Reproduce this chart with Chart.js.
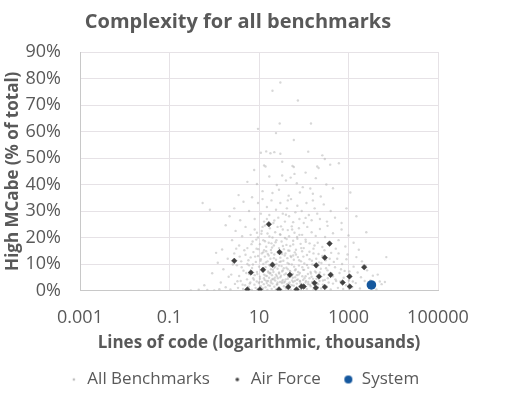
<!DOCTYPE html>
<html>
<head>
<meta charset="utf-8">
<script src="https://cdn.jsdelivr.net/npm/chart.js@4.4.1/dist/chart.umd.min.js"></script>
<style>
  body { margin: 0; background: #ffffff; }
  #wrap { width: 530px; height: 398px; }
</style>
</head>
<body>
<div id="wrap"><canvas id="complexity-chart" width="530" height="398"></canvas></div>
<script>
// x = lines of code (thousands), y = high McCabe (% of total)
const benchmarkPoints = [
  // 60-80%
  [30,78.5],[20,75.4],[74,71.7],[29,63],[145,63],[9.5,61],[24,59.4],
  // 45-60%
  [60,56.8],[126,52.4],[11,52],[14.5,52.5],[18,51.8],[22,52.2],[30,51.6],[260,51],[295,49.6],
  [7.8,45.5],[13,47.2],[14,46.8],[33,48.6],[56,47],[60,46.6],[200,46.8],[215,46.2],[390,47.5],[610,48],
  // 35-45%
  [17,43],[33,43.4],[51,42.6],[186,42.4],[5.5,41],[9,40.2],[25,39.8],[40,41.5],[70,40.5],[95,39],
  [140,38.5],[320,40],[12,37.5],[20,36.8],[28,38],[46,35.8],[82,37],[160,36.5],[240,35.5],[450,38.6],
  [3.5,36],[7,35.2],[62,44],[110,44.5],[1100,37],
  // 25-35%
  [0.55,33],[0.8,30.5],[2.2,28],[4.5,33.5],[6,30],[8,27],[9.5,33],[11,29],[13,26],[15,31.5],
  [17,28.5],[19,34],[21,25.5],[24,30.5],[27,27.5],[30,33],[34,29],[38,26],[42,31],[47,28],
  [52,34.5],[58,25.8],[65,29.5],[72,32],[80,27],[90,30],[100,25.5],[115,33],[130,28.5],[150,26.5],
  [175,31],[200,29],[230,27],[280,32.5],[330,26],[400,30],[500,27.5],[700,25.5],[900,31],[1500,28],
  [3.8,26.5],[2.8,31],[12,34.5],[44,34],[160,34],
  [9,21.8],[12,24],[15,27],[22,26.4],[31,24.2],[40,28.6],[55,23],[80,21],[110,27.4],
  // 15-25%
  [1.8,24.6],[1.5,15.5],[2.5,19],[3,22.5],[3.6,17],[4.2,20.5],[5,24],[5.5,16],[6.5,21],[7.2,18.5],
  [8,23],[8.8,15.8],[9.5,20],[10.5,17.5],[11.5,22.5],[12.5,19],[13.5,24.5],[14.5,16.5],[15.5,21.5],[16.5,18],
  [17.5,23.5],[18.5,15.3],[20,20],[21.5,17],[23,22],[24.5,19],[26,24],[28,16],[30,21],[32,18.5],
  [34,23],[36,15.6],[38,19.8],[41,17.2],[44,22.8],[47,20.5],[50,16.8],[54,24.2],[58,18.8],[62,21.8],
  [67,15.4],[72,19.5],[78,23.5],[85,17.6],[92,21],[100,16],[110,19.2],[120,24],[135,17.8],[150,22],
  [165,15.8],[185,20.6],[205,18],[230,23.2],[260,16.4],[300,20.2],[340,24.4],[390,17.4],[450,21.6],[520,15.8],
  [600,19],[700,23],[850,16.6],[1000,20.8],[1300,18],[1700,15.4],[2500,22],[13,15.2],[19,17.8],[45,15.1],
  [6.8,17.5],[8.7,19.2],[11.3,21.4],[13.6,18.6],[17.1,20.4],[19.6,16.2],[23.5,18.2],[29.6,21.2],[34.2,16.8],
  [41.5,19.4],[48,15],[58,17.4],[71,20.2],[88,16],[111,18.4],[174,17],[290,15.2],[3.1,15.8],[4.7,15.2],
  // 5-15%
  [1.6,8],[2,12],[2.4,6],[2.8,14],[3.2,9.5],[3.6,5.5],[4,11],[4.5,7.5],[5,13.5],[5.5,10],
  [6,6.2],[6.5,12.5],[7,8.5],[7.5,14.5],[8,5.8],[8.5,10.8],[9,7],[9.5,13],[10,9],[10.5,5.2],
  [11,11.8],[11.5,14],[12,7.8],[12.5,10],[13,6],[13.5,12.8],[14,8.8],[14.5,14.8],[15,5.5],[15.5,11],
  [16,7.2],[16.5,13.2],[17,9.6],[17.5,6.4],[18,12],[18.5,8],[19,14.2],[19.5,5.8],[20,10.4],[21,7],
  [22,13.6],[23,9],[24,11.6],[25,5.4],[26,8.2],[27,14.6],[28,6.8],[29,10.8],[30,12.4],[31,5.6],
  [32,9.2],[33,13.8],[34,7.6],[35,11.2],[37,6],[39,14],[41,8.6],[43,12.2],[45,5.2],[47,10],
  [49,7.4],[51,13],[54,9.8],[57,6.2],[60,11.6],[63,14.4],[66,8],[70,5.8],[74,12.6],[78,9.4],
  [82,6.6],[87,11],[92,14.8],[97,7.8],[103,10.2],[110,5.4],[118,13.4],[126,8.6],[135,11.8],[145,6.4],
  [155,9.8],[165,14],[178,7.2],[190,12],[205,5.6],[220,10.6],[240,8.2],[260,13],[285,6],[310,11.4],
  [340,7.6],[370,9.6],[410,14.2],[450,5.4],[500,8.8],[560,12],[630,6.6],[720,10],[820,7.4],[950,13.6],
  [1100,5.8],[1300,9],[1600,6.8],[2000,11],[2600,7.6],[3500,5.6],[0.9,6.5],[1.2,10.5],[4500,6],[6,9.5],
  [7000,12.6],
  [4.1,8.8],[5.2,6.6],[5.8,11.4],[7.3,9.8],[8.2,12.8],[9.2,6.2],[9.7,15.6],[10.8,11.2],[11.8,8.2],[12.4,14.4],
  [14.2,10.6],[15.7,13.8],[16.3,6.8],[17.9,9.2],[20.5,7.8],[21.5,12.2],[24.6,10],[26.8,14.2],[28.2,6.4],[31,11],
  [35.8,8.4],[37.5,13.2],[43.5,10.4],[50,7.2],[52.5,12.6],[61,9],[67,13.6],[75,7],[79,11.4],[93,8.8],
  [98,12.8],[118,9.6],[134,14.6],[142,7],[152,11.2],[186,9],[214,13.8],[230,6.8],[248,10.4],[315,8.4],
  [380,12],[420,6.4],[470,10.8],[600,14],[680,8],[900,11.8],[1050,7.2],[1500,12.6],[1900,5],[2400,9.4],
  [2.1,5.2],[2.6,9.8],[1.1,14.2],[3.7,12.8],[14,5.6],[18,6.6],[22,8.6],[24,6],[28,9.4],[30,5],
  [33,7.2],[40,6.4],[44,8],[53,5.8],[64,7.6],[77,6],[93,5.4],[102,7.8],[124,6.2],[150,5.2],
  [188,6.8],[235,5.2],[58,13.2],[64,5],
  // 0-5%
  [0.3,0],[0.45,0.3],[0.7,0.2],[1,0],[1.3,0.5],[1.8,1.2],[2.3,0.4],[2.9,2.5],[3.4,1],[3.9,3.6],
  [4.4,0.6],[4.9,2],[5.4,4.2],[5.9,1.4],[6.4,3],[6.9,0.2],[7.4,4.6],[7.9,2.2],[8.4,1],[8.9,3.4],
  [9.4,0.4],[9.9,2.8],[10.5,4.4],[11,1.6],[11.6,3.2],[12.2,0.8],[12.8,2.4],[13.4,4],[14,1.2],[14.7,3.6],
  [15.4,0.2],[16.1,2],[16.8,4.8],[17.6,1.8],[18.4,3],[19.2,0.6],[20,2.6],[21,4.2],[22,1.4],[23,3.8],
  [24,0.4],[25,2.2],[26.5,4.6],[28,1],[29.5,3.2],[31,0.2],[32.5,2.8],[34,4],[36,1.6],[38,3.4],
  [40,0.8],[42,2.4],[44,4.4],[46,1.2],[48.5,3],[51,0.4],[54,2],[57,4.8],[60,1.8],[63,3.6],
  [66,0.6],[70,2.6],[74,4.2],[78,1.4],[82,3.4],[87,0.2],[92,2.2],[97,4],[103,1],[110,3],
  [117,0.6],[125,2.4],[134,4.6],[143,1.6],[153,3.2],[165,0.4],[178,2.8],[192,4.4],[207,1.2],[225,3.6],
  [245,0.8],[268,2.2],[295,4],[325,1.4],[360,3],[400,0.4],[450,2.6],[510,4.2],[580,1],[660,3.4],
  [760,0.6],[880,2],[1020,3.8],[1200,1.2],[1450,2.8],[1800,0.8],[2300,3.6],[3000,1.6],[4200,0.4],[5500,2.4],
  [5000,3.4],[6500,3.2],
  [3.3,3.5],[6.2,2.6],[7.7,4.1],[10.2,3.2],[12.9,4.6],[14.9,2.8],[18.7,3.8],[22.5,4.8],[25.6,2.4],[32.5,3.4],
  [39.5,4.2],[45.5,2.6],[55,3.8],[83,3.6],[104,4.6],[126,3.2],[162,4.4],[199,2.8],[268,3.8],[345,4.6],
  [530,3.6],[780,4.8],[1250,3.4],[3100,3.8],[1.4,3],[0.6,2],[4.3,2.2],[16,3.6],[20,4.4],[26,3],
  [36,3],[48,2.2],[58,3.2],[70,4],[85,2.6],[112,3.6],[137,2.2],[168,3.4],[210,2.4]
];

const airForcePoints = [
  [16.6,25],[377,17.7],[28.8,14.5],[2.8,11.2],[295,12.4],[20,9.7],[12.3,7.8],[6.6,6.8],[190,9.5],[2240,8.8],
  [49,5.9],[219,5.3],[398,5.9],[1050,5.3],[174,2.8],[741,3],[5.5,0.4],[10.5,0.4],[28,0.4],[45,1.3],
  [69,0.4],[89,1.5],[100,1.5],[186,1],[295,1.3],[1070,1.5]
];

const systemPoints = [[3250,2.1]];

const seriesNames = ['All Benchmarks', 'Air Force', 'System'];
const xTicks = [0.001, 0.1, 10, 1000, 100000];

const textColor = '#595959';
const gridColor = '#e6e2e6';
const axisColor = '#c8c8c8';
const fontFamily = '"Open Sans", "DejaVu Sans", sans-serif';

// little canvases used as legend markers (dot sits near the right edge)
function legendDot(radius, color) {
  const c = document.createElement('canvas');
  c.width = 22;
  c.height = 12;
  const g = c.getContext('2d');
  g.fillStyle = color;
  g.beginPath();
  g.arc(17, 6, radius, 0, Math.PI * 2);
  g.fill();
  return c;
}
const legendMarkers = [
  legendDot(1.3, '#bdbdbd'),
  legendDot(1.8, '#404040'),
  legendDot(4, '#15589e')
];

function toXY(points) {
  return points.map(p => ({x: p[0], y: p[1]}));
}

const ctx = document.querySelector('#complexity-chart').getContext('2d');
new Chart(ctx, {
  type: 'scatter',
  data: {
    datasets: [{
      label: seriesNames[0],
      data: toXY(benchmarkPoints),
      backgroundColor: 'rgba(175,175,175,0.5)',
      borderWidth: 0,
      pointRadius: 1.2,
      order: 3
    }, {
      label: seriesNames[1],
      data: toXY(airForcePoints),
      backgroundColor: '#404040',
      borderColor: '#404040',
      borderWidth: 0.5,
      pointStyle: 'rectRot',
      pointRadius: 2.8,
      order: 2
    }, {
      label: seriesNames[2],
      data: toXY(systemPoints),
      backgroundColor: '#15589e',
      borderWidth: 0,
      pointRadius: 4.8,
      order: 1
    }]
  },
  options: {
    responsive: false,
    animation: false,
    events: [],
    layout: { padding: { left: 0, right: 54, top: 0, bottom: 0 } },
    plugins: {
      title: {
        display: true,
        text: 'Complexity for all benchmarks',
        color: textColor,
        font: { family: fontFamily, size: 20, weight: 'bold' },
        padding: { top: 10, bottom: 18 }
      },
      legend: {
        position: 'bottom',
        labels: {
          usePointStyle: true,
          pointStyleWidth: 22,
          padding: 10.5,
          color: textColor,
          font: { family: fontFamily, size: 17 },
          generateLabels: chart => chart.data.datasets.map((ds, i) => ({
            text: ds.label,
            pointStyle: legendMarkers[i],
            fillStyle: 'transparent',
            strokeStyle: 'transparent',
            lineWidth: 0,
            fontColor: textColor,
            datasetIndex: i
          }))
        }
      },
      tooltip: { enabled: false }
    },
    scales: {
      x: {
        type: 'logarithmic',
        min: 0.001,
        max: 100000,
        afterBuildTicks: scale => { scale.ticks = xTicks.map(v => ({value: v})); },
        afterFit: scale => { scale.height = 70; scale.paddingRight = 92; },
        ticks: {
          autoSkip: false,
          maxRotation: 0,
          padding: 17,
          color: textColor,
          font: { family: fontFamily, size: 18 },
          callback: v => String(v)
        },
        grid: { color: gridColor, drawTicks: false },
        border: { color: axisColor },
        title: {
          display: true,
          text: 'Lines of code (logarithmic, thousands)',
          color: textColor,
          font: { family: fontFamily, size: 17, weight: 'bold' },
          padding: { top: 0, bottom: 7 }
        }
      },
      y: {
        min: 0,
        max: 90,
        afterFit: scale => { scale.width = 80; },
        ticks: {
          stepSize: 10,
          padding: 19,
          color: textColor,
          font: { family: fontFamily, size: 18 },
          callback: v => v + '%'
        },
        grid: { color: gridColor, drawTicks: false },
        border: { color: axisColor },
        title: {
          display: true,
          text: 'High MCabe (% of total)',
          color: textColor,
          font: { family: fontFamily, size: 17, weight: 'bold' },
          padding: { top: 3, bottom: 0 }
        }
      }
    }
  }
});
</script>
</body>
</html>
